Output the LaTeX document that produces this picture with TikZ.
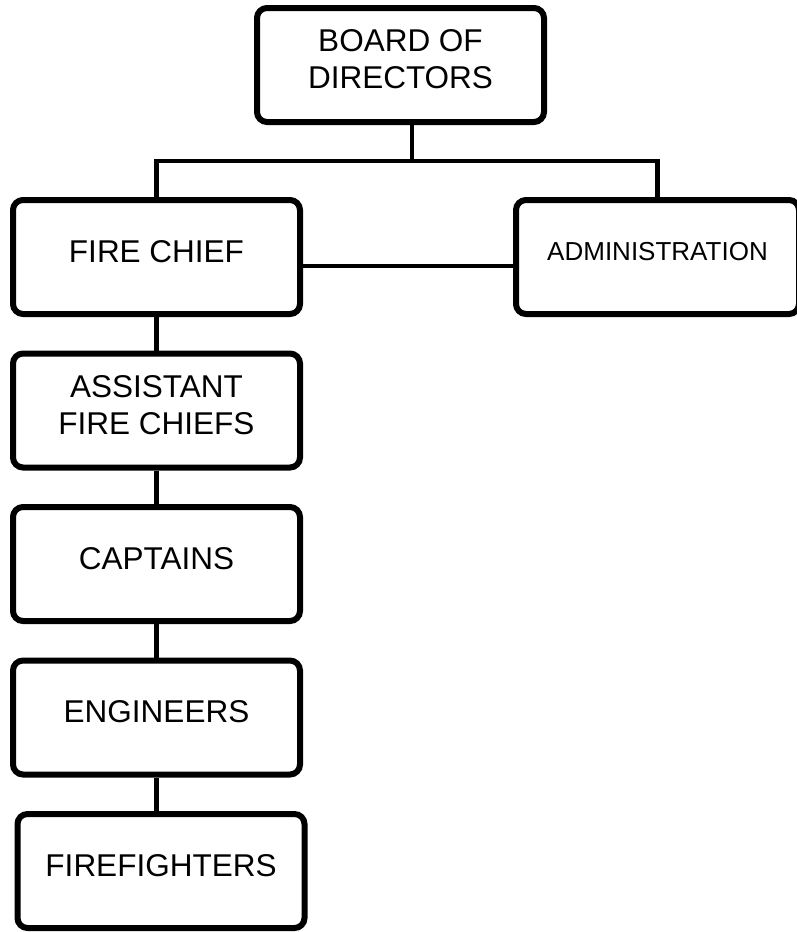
\documentclass[tikz,border=0pt]{standalone}
\usepackage{fontspec}
\setmainfont{Liberation Sans}
\usepackage{tikz}

\begin{document}
\begin{tikzpicture}[x=1pt,y=-1pt,node distance=153.5pt,
  org node/.style={draw,line width=6pt,rounded corners=10pt,align=center,
    minimum width=287pt,minimum height=114pt,inner sep=0pt,text depth=12pt,
    font=\fontsize{31.5}{37}\selectfont},
  link/.style={line width=4.5pt}]
                        \useasboundingbox (0,0) rectangle (796,932);
                        \node[org node] (board) at (400.5,65) {BOARD OF\\DIRECTORS};
                        \node[org node] (chief) at (156.5,257) {FIRE CHIEF};
                        \node[org node,minimum width=283pt,font=\fontsize{26}{31}\selectfont] (admin) at (657.5,257) {ADMINISTRATION};
                        \node[org node] (assist) [below of=chief] {ASSISTANT\\FIRE CHIEFS};
                        \node[org node] (captains) [below of=assist] {CAPTAINS};
                        \node[org node] (engineers) [below of=captains] {ENGINEERS};
                        \node[org node] (fighters) [below of=engineers,xshift=4.5pt] {FIREFIGHTERS};
                        \coordinate (bus) at (412,161);

                        %\path (board) edge [-] (bus);
                        \draw[link] (board.south -| bus)--(bus);
                        \draw[link] (chief.north) |- (bus) -| (admin.north);
                        \draw[link] ([yshift=-9pt]chief.east)--([yshift=-9pt]chief.east -| admin.west);
                        \draw[link] (chief)--(assist);
                        \draw[link] (assist)--(captains);
                        \draw[link] (captains)--(engineers);
                        \draw[link] (engineers.south)--(engineers.south |- fighters.north);
        \end{tikzpicture}
\end{document}
